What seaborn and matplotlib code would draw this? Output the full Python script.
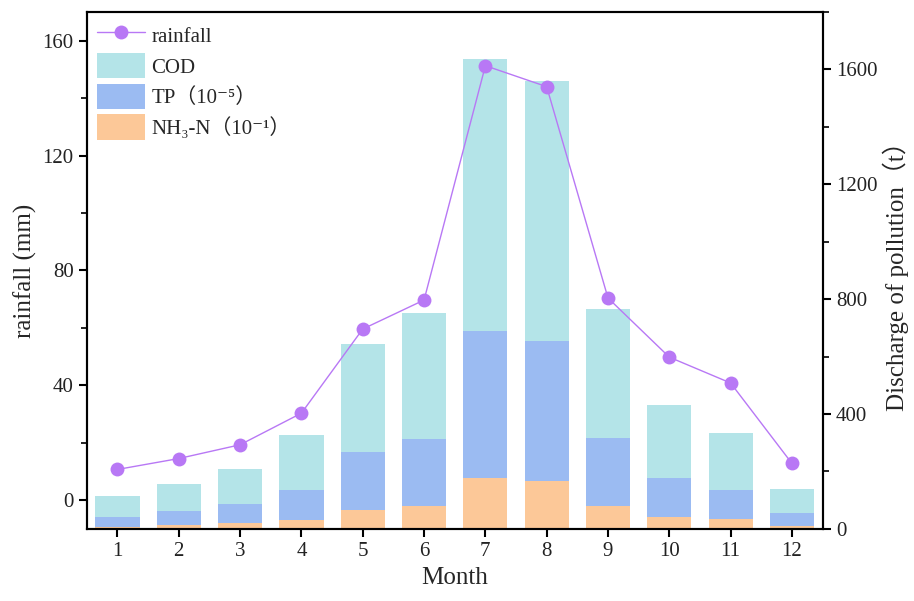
import numpy as np
import pandas as pd
import seaborn as sns
import matplotlib.pyplot as plt
from matplotlib.ticker import MultipleLocator

# Data
months = list(range(1, 13))
rainfall = [10.7, 14.5, 19.3, 30.3, 59.6, 69.7, 151.3, 144.0, 70.4, 49.8, 40.8, 12.8]
cod = [115, 156, 210, 328, 643, 751, 1638, 1561, 765, 430, 335, 140]
tp = [43, 62, 85, 134, 268, 314, 688, 653, 318, 178, 137, 55]
nh3n = [8, 14, 20, 31, 66, 79, 176, 168, 79, 42, 33, 9]

df = pd.DataFrame({'month': months, 'rainfall': rainfall,
                   'COD': cod, 'TP': tp, 'NH3N': nh3n})

# Style
sns.set_style("ticks")
plt.rcParams['font.family'] = ['Liberation Serif', 'Noto Sans CJK SC', 'DejaVu Serif']

c_cod = '#b4e4e8'
c_tp = '#9bbbf2'
c_nh3 = '#fcc898'
c_rain = '#b878f5'

fig, ax1 = plt.subplots(figsize=(9.14, 6.01), dpi=100)
ax2 = ax1.twinx()

# Bars on the right axis, overlaid from 0
sns.barplot(data=df, x='month', y='COD', color=c_cod, width=0.72, native_scale=True,
            saturation=1, linewidth=0, label='COD', ax=ax2)
sns.barplot(data=df, x='month', y='TP', color=c_tp, width=0.72, native_scale=True,
            saturation=1, linewidth=0, label='TP（10⁻⁵）', ax=ax2)
sns.barplot(data=df, x='month', y='NH3N', color=c_nh3, width=0.72, native_scale=True,
            saturation=1, linewidth=0, label='NH₃-N（10⁻¹）', ax=ax2)

# Rainfall line on the left axis
sns.lineplot(data=df, x='month', y='rainfall', color=c_rain, marker='o', markersize=10,
             markeredgewidth=0, linewidth=1, label='rainfall', ax=ax1)

ax1.set_zorder(ax2.get_zorder() + 1)
ax1.patch.set_visible(False)

ax1.set_xlim(0.5, 12.5)
ax1.set_xticks(months)
ax1.set_xticklabels([str(m) for m in months])
ax1.set_ylim(-10, 170)
ax1.set_yticks([0, 40, 80, 120, 160])
ax1.yaxis.set_minor_locator(MultipleLocator(20))
ax2.set_ylim(0, 1800)
ax2.set_yticks([0, 400, 800, 1200, 1600])
ax2.yaxis.set_minor_locator(MultipleLocator(200))

ax1.set_xlabel('Month', fontsize=18)
ax1.set_ylabel('rainfall (mm)', fontsize=18)
ax2.set_ylabel('Discharge of pollution（t）', fontsize=18)

for ax in (ax1, ax2):
    ax.tick_params(which='major', length=6, width=1.5, labelsize=15, color='black',
                   labelcolor='#222222')
    ax.tick_params(which='minor', length=4, width=1.2, color='black')
    for s in ax.spines.values():
        s.set_linewidth(1.5)
        s.set_color('black')

# Combined legend
h1, l1 = ax1.get_legend_handles_labels()
h2, l2 = ax2.get_legend_handles_labels()
if ax2.get_legend() is not None:
    ax2.get_legend().remove()
ax1.legend(h1 + h2, l1 + l2, loc='upper left', frameon=False, fontsize=15,
           handlelength=2.3, handleheight=1.5, borderaxespad=0.1, labelspacing=0.25,
           handletextpad=0.3)

plt.subplots_adjust(left=0.095, right=0.9, top=0.98, bottom=0.12)
plt.savefig('out.png', dpi=100)
